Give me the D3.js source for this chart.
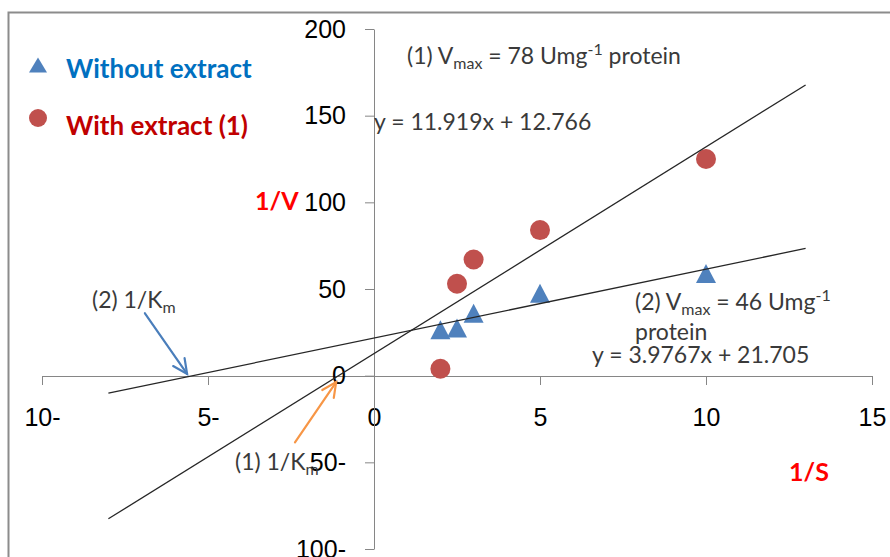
<!DOCTYPE html>
<html>
<head>
<meta charset="utf-8">
<script src="https://cdn.jsdelivr.net/npm/d3@7"></script>
<style>
  body { margin: 0; background: #fff; }
  .tick text { font-family: "Liberation Sans", Arial, sans-serif; font-size: 25px; fill: #000; }
  .note { font-family: Lato, "Open Sans", sans-serif; font-size: 23px; fill: #3a3a3a; }
  .legend { font-family: Lato, "Open Sans", sans-serif; font-size: 26px; font-weight: bold; }
</style>
</head>
<body>
<div id="chart"></div>
<script>
// Lineweaver-Burk data

var invS = [2, 2.5, 3, 5, 10];
var withoutExtract = [26.5, 27.5, 36, 47.5, 59];
var withExtract = [4, 53, 67, 84, 125];

// trend lines: [without extract, with extract]
var slopes = [3.9767, 11.919];
var intercepts = [21.705, 12.766];
var trendRange = [-8, 13];

var xTicks = [-10, -5, 0, 5, 10, 15];
var xTickLabels = ["10-", "5-", "0", "5", "10", "15"];
var yTicks = [-100, -50, 0, 50, 100, 150, 200];
var yTickLabels = ["100-", "50-", "0", "50", "100", "150", "200"];

var width = 890, height = 557;

var svg = d3.select("#chart")
  .append("svg")
  .attr("width", width)
  .attr("height", height);

// chart frame (right and bottom edges fall outside the picture)
svg.append("rect")
  .attr("x", 8.5).attr("y", 12.5)
  .attr("width", 1000).attr("height", 1000)
  .attr("fill", "none")
  .attr("stroke", "#8c8c8c")
  .attr("stroke-width", 2);

var xScale = d3.scaleLinear().domain([-10, 15]).range([42, 872]);
var yScale = d3.scaleLinear().domain([-100, 200]).range([549, 29]);

var x0 = Math.round(xScale(0));
var y0 = Math.round(yScale(0));

// Axes

var xAxis = svg.append("g")
  .attr("transform", `translate(0, ${y0})`)
  .call(d3.axisBottom(xScale)
    .tickValues(xTicks)
    .tickFormat(function(d, i) { return xTickLabels[i]; })
    .tickSize(9)
    .tickSizeOuter(0)
    .tickPadding(23));

var yAxis = svg.append("g")
  .attr("transform", `translate(${x0}, 0)`)
  .call(d3.axisLeft(yScale)
    .tickValues(yTicks)
    .tickFormat(function(d, i) { return yTickLabels[i]; })
    .tickSize(9)
    .tickSizeOuter(0)
    .tickPadding(19));

svg.selectAll(".domain, .tick line").attr("stroke", "#868686");

// Markers

function triangle(cx, cy, w, h) {
  return `M${cx},${cy - h / 2}L${cx + w / 2},${cy + h / 2}L${cx - w / 2},${cy + h / 2}Z`;
}

svg.selectAll(".without")
  .data(invS)
  .enter().append("path")
  .attr("class", "without")
  .attr("d", function(d, i) { return triangle(xScale(d), yScale(withoutExtract[i]), 20, 19); })
  .attr("fill", "#4f81bd");

svg.selectAll(".with")
  .data(invS)
  .enter().append("circle")
  .attr("class", "with")
  .attr("cx", function(d) { return xScale(d); })
  .attr("cy", function(d, i) { return yScale(withExtract[i]); })
  .attr("r", 10)
  .attr("fill", "#c0504d");

// Trend lines

var line = d3.line()
  .x(function(d) { return xScale(d[0]); })
  .y(function(d) { return yScale(d[1]); });

slopes.forEach(function(m, i) {
  var pts = trendRange.map(function(x) { return [x, m * x + intercepts[i]]; });
  svg.append("path")
    .attr("d", line(pts))
    .attr("fill", "none")
    .attr("stroke", "#262626")
    .attr("stroke-width", 1.3);
});

// Arrows to the 1/Km intercepts

function arrow(from, to, color) {
  var x1 = xScale(from[0]), y1 = yScale(from[1]);
  var x2 = xScale(to[0]), y2 = yScale(to[1]);
  var a = Math.atan2(y2 - y1, x2 - x1);
  var len = 16, spread = 0.45;
  var g = svg.append("g")
    .attr("stroke", color)
    .attr("stroke-width", 2.2)
    .attr("fill", "none")
    .attr("stroke-linecap", "round");
  g.append("path").attr("d", `M${x1},${y1}L${x2},${y2}`);
  g.append("path").attr("d",
    `M${x2 - len * Math.cos(a - spread)},${y2 - len * Math.sin(a - spread)}` +
    `L${x2},${y2}` +
    `L${x2 - len * Math.cos(a + spread)},${y2 - len * Math.sin(a + spread)}`);
}

arrow([-6.9, 36], [-5.63, 1], "#4a7ebb");
arrow([-2.38, -38.5], [-1.14, -3.7], "#f79646");

// Annotations

function note(x, y, parts, cls) {
  var t = svg.append("text").attr("class", cls || "note").attr("x", x).attr("y", y);
  parts.forEach(function(p) {
    var s = t.append("tspan").text(p[0]);
    if (p[1] === "sub") s.attr("font-size", 16).attr("dy", 5);
    if (p[1] === "sup") s.attr("font-size", 16).attr("dy", -9);
    if (p[1] === "base") s.attr("dy", p[2]);
  });
  return t;
}

note(407, 64, [["(1) V"], ["max", "sub"], [" = 78 Umg", "base", -5], ["-1", "sup"], [" protein", "base", 9]]);
note(374, 130, [["y = 11.919x + 12.766"]]);
note(92, 308, [["(2) 1/K"], ["m", "sub"]]);
note(635, 310, [["(2) V"], ["max", "sub"], [" = 46 Umg", "base", -5], ["-1", "sup"]]);
note(635, 340, [["protein"]]);
note(592, 363, [["y = 3.9767x + 21.705"]]);
note(235, 470, [["(1) 1/K"], ["m", "sub"]]);

note(255, 210, [["1/V"]], "legend").attr("fill", "#ff0000").style("font-size", "25px");
note(789, 481, [["1/S"]], "legend").attr("fill", "#ff0000").style("font-size", "25px");

// Legend

svg.append("path")
  .attr("d", triangle(38, 65, 18, 15))
  .attr("fill", "#4f81bd");
svg.append("text")
  .attr("class", "legend")
  .attr("x", 66).attr("y", 78)
  .attr("fill", "#0070c0")
  .text("Without extract");

svg.append("circle")
  .attr("cx", 38).attr("cy", 118).attr("r", 9)
  .attr("fill", "#c0504d");
svg.append("text")
  .attr("class", "legend")
  .attr("x", 66).attr("y", 135)
  .attr("fill", "#c00000")
  .text("With extract (1)");
</script>
</body>
</html>
